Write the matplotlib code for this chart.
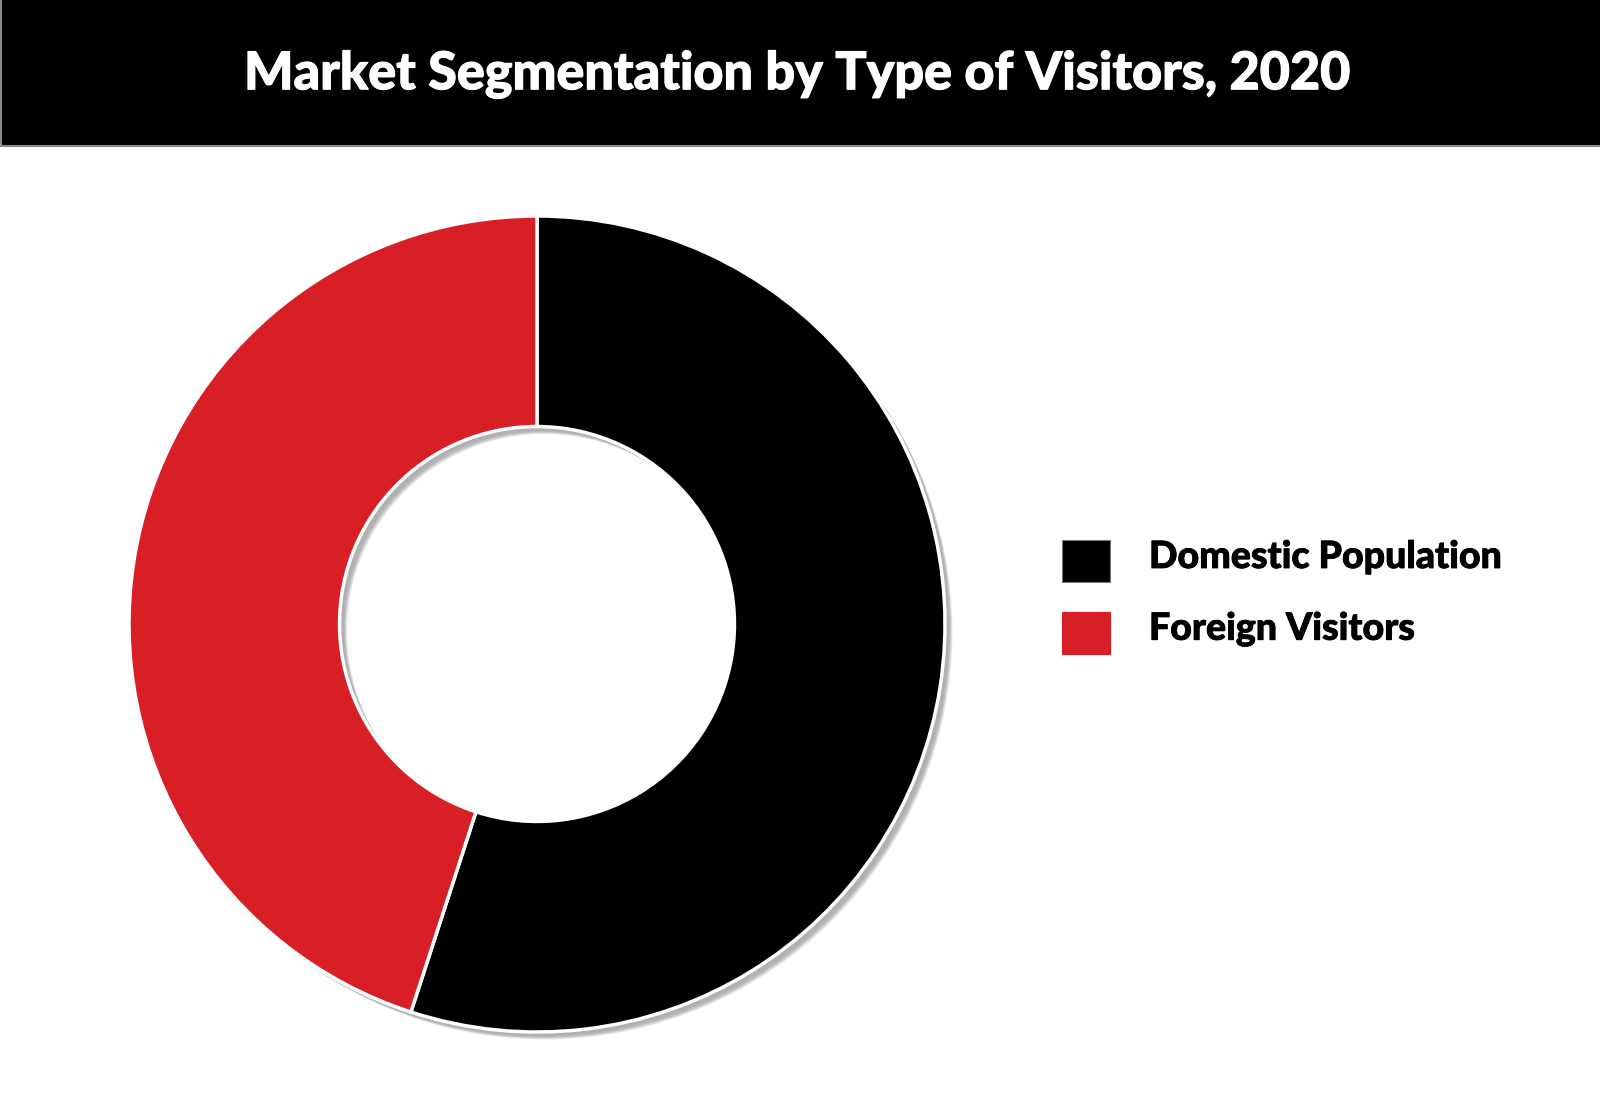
import matplotlib
matplotlib.use("Agg")
import matplotlib.pyplot as plt
from matplotlib.patches import Rectangle, Wedge
import matplotlib.transforms as mtransforms
import matplotlib.patheffects as pe

title = "Market Segmentation by Type of Visitors, 2020"
categories = ["Domestic Population", "Foreign Visitors"]
shares = [55, 45]
colors = ["#000000", "#d91f26"]

W, H = 1600, 1120
fig = plt.figure(figsize=(16, 11.2), dpi=100)
fig.patch.set_facecolor("white")

def fx(x):
    return x / W

def fy(y):
    return 1 - y / H

FONT = ["Lato", "DejaVu Sans"]

# title bar
fig.patches.append(Rectangle((0.0005, fy(146)), 1.01, 146 / H + 0.01, transform=fig.transFigure,
                             facecolor="black", edgecolor="#888888", linewidth=1.5, zorder=0))
fig.text(fx(798), fy(75), title, ha="center", va="center", color="white",
         fontsize=37.5, fontweight="black", family=FONT,
         path_effects=[pe.withStroke(linewidth=0.8, foreground="white")])

# donut
cx, cy, r = 537, 624, 408
ax = fig.add_axes([fx(cx - r), fy(cy + r), 2 * r / W, 2 * r / H])
ring_w = 0.516
# soft shadow behind the ring
for off, a in [(9, 0.25), (8, 0.35), (7, 0.45), (6, 0.6), (5, 0.7), (4, 0.8)]:
    tr = mtransforms.offset_copy(ax.transData, fig=fig, x=off * 0.6, y=-off * 0.6,
                                 units="points")
    ax.add_patch(Wedge((0, 0), 1.0, 0, 360, width=ring_w, facecolor="#b0b0b0",
                       edgecolor="none", alpha=a, transform=tr, zorder=0, clip_on=False))
wedges, _ = ax.pie(shares, colors=colors, startangle=90, counterclock=False, radius=1,
                   wedgeprops=dict(width=ring_w, edgecolor="white", linewidth=2.5, zorder=2))
for w in wedges:
    w.set_clip_on(False)
ax.set_xlim(-1, 1)
ax.set_ylim(-1, 1)
ax.set_aspect("equal")
ax.axis("off")

# legend
rows_y = [561, 633]
for lab, col, y in zip(categories, colors, rows_y):
    fig.patches.append(Rectangle((fx(1062), fy(y + 21)), 48 / W, 42 / H, transform=fig.transFigure,
                                 facecolor=col, edgecolor="#777777" if col == "#000000" else col,
                                 linewidth=0.8))
    fig.text(fx(1149), fy(y - 4), lab, ha="left", va="center", color="black",
             fontsize=27, fontweight="black", family=FONT,
             path_effects=[pe.withStroke(linewidth=0.6, foreground="black")])

fig.savefig("out.png", dpi=100, facecolor="white")
